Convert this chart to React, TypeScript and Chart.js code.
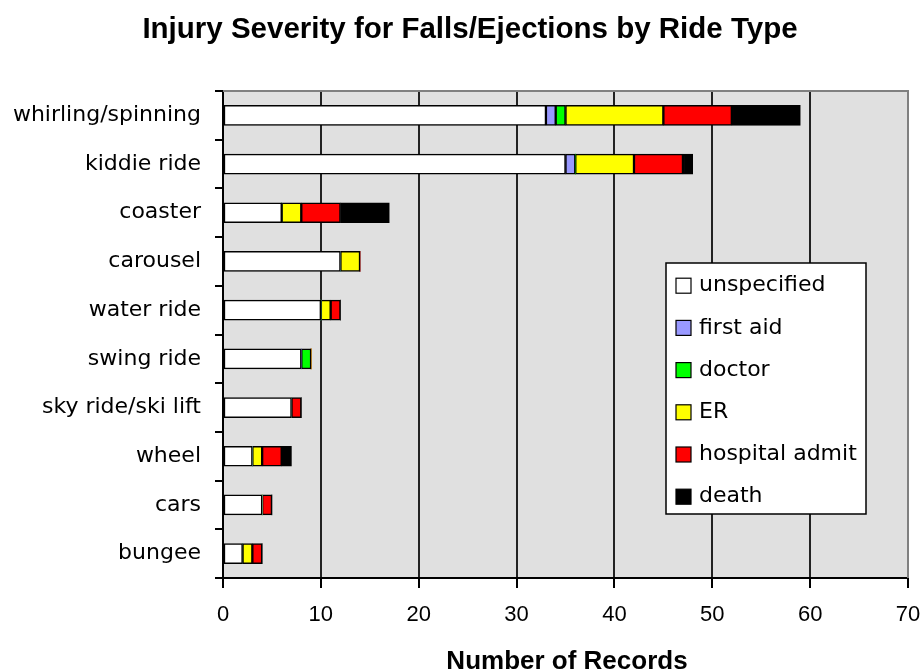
import React, { useEffect, useRef } from "react";
import { Chart, registerables } from "chart.js";

Chart.register(...registerables);

const categories = [
  "whirling/spinning",
  "kiddie ride",
  "coaster",
  "carousel",
  "water ride",
  "swing ride",
  "sky ride/ski lift",
  "wheel",
  "cars",
  "bungee",
];
const unspecified = [33, 35, 6, 12, 10, 8, 7, 3, 4, 2];
const firstAid = [1, 1, 0, 0, 0, 0, 0, 0, 0, 0];
const doctor = [1, 0, 0, 0, 0, 1, 0, 0, 0, 0];
const er = [10, 6, 2, 2, 1, 0, 0, 1, 0, 1];
const hospitalAdmit = [7, 5, 4, 0, 1, 0, 1, 2, 1, 1];
const death = [7, 1, 5, 0, 0, 0, 0, 1, 0, 0];

const seriesNames = ["unspecified", "first aid", "doctor", "ER", "hospital admit", "death"];
const seriesColors = ["#FFFFFF", "#9999FF", "#00FF00", "#FFFF00", "#FF0000", "#000000"];
const seriesData = [unspecified, firstAid, doctor, er, hospitalAdmit, death];
const xTicks = [0, 10, 20, 30, 40, 50, 60, 70];

const chartTitle = "Injury Severity for Falls/Ejections by Ride Type";
const xTitle = "Number of Records";

const decorPlugin = {
  id: "decor",
  beforeDraw(chart: any) {
    const { ctx, chartArea } = chart;
    ctx.save();
    ctx.fillStyle = "#E0E0E0";
    ctx.fillRect(chartArea.left, chartArea.top, chartArea.right - chartArea.left, chartArea.bottom - chartArea.top);
    ctx.restore();
  },
  beforeDatasetsDraw(chart: any) {
    const { ctx, chartArea } = chart;
    ctx.save();
    ctx.strokeStyle = "#808080";
    ctx.lineWidth = 2;
    ctx.beginPath();
    ctx.moveTo(chartArea.left, chartArea.top);
    ctx.lineTo(chartArea.right, chartArea.top);
    ctx.lineTo(chartArea.right, chartArea.bottom);
    ctx.stroke();
    ctx.restore();
  },
  afterDraw(chart: any) {
    const { ctx } = chart;
    ctx.save();
    // title
    ctx.fillStyle = "#000";
    ctx.textAlign = "center";
    ctx.textBaseline = "alphabetic";
    ctx.font = "bold 29.5px 'Liberation Sans', Arial, sans-serif";
    ctx.fillText(chartTitle, 470, 38);
    // x axis title
    ctx.font = "bold 26px 'Liberation Sans', Arial, sans-serif";
    ctx.fillText(xTitle, 567, 669);

    // legend
    const bx = 666, by = 263, bw = 200, bh = 251;
    ctx.fillStyle = "#FFFFFF";
    ctx.fillRect(bx, by, bw, bh);
    ctx.strokeStyle = "#000";
    ctx.lineWidth = 1.5;
    ctx.strokeRect(bx, by, bw, bh);
    ctx.font = "22px 'DejaVu Sans', sans-serif";
    ctx.textAlign = "left";
    ctx.textBaseline = "middle";
    const ds = chart.data.datasets;
    for (let i = 0; i < ds.length; i++) {
      const cy = 285.7 + i * 42.2;
      ctx.fillStyle = ds[i].backgroundColor;
      ctx.fillRect(676, cy - 7.5, 15, 15);
      ctx.lineWidth = 1.2;
      ctx.strokeStyle = "#000";
      ctx.strokeRect(676, cy - 7.5, 15, 15);
      ctx.fillStyle = "#000";
      ctx.fillText(ds[i].label, 699, cy);
    }
    ctx.restore();
  },
};

export default function App() {
  const canvasRef = useRef<HTMLCanvasElement | null>(null);

  useEffect(() => {
    if (!canvasRef.current) return;
    const chart = new Chart(canvasRef.current, {
      type: "bar",
      data: {
        labels: categories,
        datasets: seriesNames.map((name, i) => ({
          label: name,
          data: seriesData[i],
          backgroundColor: seriesColors[i],
          borderColor: "#000000",
          borderWidth: (c: any) => (c.raw === 0 ? 0 : 1.5),
          borderSkipped: false,
          barThickness: 20,
        })),
      },
      options: {
        indexAxis: "y",
        animation: false,
        responsive: false,
        maintainAspectRatio: false,
        layout: { padding: { top: 91, right: 13, left: 0, bottom: 0 } },
        plugins: {
          legend: { display: false },
          title: { display: false },
          tooltip: { enabled: false },
        },
        scales: {
          x: {
            stacked: true,
            min: 0,
            max: 70,
            afterBuildTicks: (scale: any) => {
              scale.ticks = xTicks.map((v) => ({ value: v }));
            },
            afterFit: (scale: any) => {
              scale.height = 93;
              scale.paddingLeft = 0;
              scale.paddingRight = 0;
            },
            grid: {
              color: (c: any) => (c.tick && c.tick.value === 70 ? "rgba(0,0,0,0)" : "#222222"),
              lineWidth: 2,
              tickColor: "#000000",
              tickLength: 10,
              drawTicks: true,
            },
            border: { display: true, color: "#000000", width: 2 },
            ticks: {
              color: "#000000",
              font: { family: "'Liberation Sans', Arial, sans-serif", size: 22 },
              padding: 14,
              maxRotation: 0,
            },
          },
          y: {
            stacked: true,
            afterFit: (scale: any) => {
              scale.width = 223;
              scale.paddingTop = 0;
              scale.paddingBottom = 0;
            },
            grid: {
              offset: true,
              drawOnChartArea: false,
              drawTicks: true,
              tickLength: 8,
              color: "#000000",
              lineWidth: 2,
            },
            border: { display: true, color: "#000000", width: 2 },
            ticks: {
              color: "#000000",
              font: { family: "'DejaVu Sans', sans-serif", size: 22 },
              padding: 14,
            },
          },
        },
      },
      plugins: [decorPlugin],
    } as any);
    return () => chart.destroy();
  }, []);

  return (
    <div style={{ position: "absolute", left: 0, top: 0, width: 921, height: 671, background: "#fff" }}>
      <canvas ref={canvasRef} width={921} height={671} style={{ display: "block" }} />
    </div>
  );
}
